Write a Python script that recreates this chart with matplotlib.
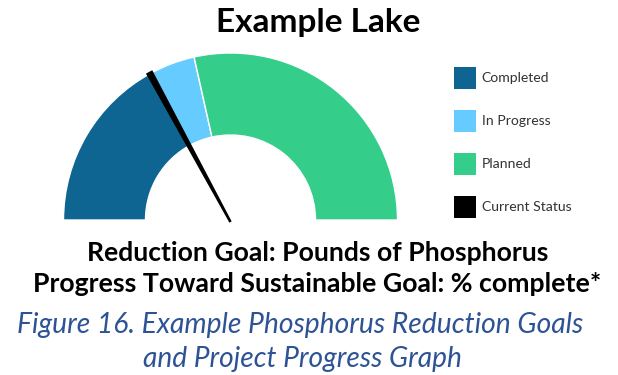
import numpy as np
import matplotlib
matplotlib.use("Agg")
import matplotlib.pyplot as plt
from matplotlib.patches import Wedge, Polygon, Rectangle

# gauge data (% of the phosphorus reduction goal)
labels = ["Completed", "In Progress", "Planned"]
values = [34, 9, 57]
colors = ["#0e6592", "#66ccff", "#35cd8a"]
current_status = 34

legend_labels = labels + ["Current Status"]
legend_colors = colors + ["#000000"]

W, H = 618, 375
fig = plt.figure(figsize=(W / 100, H / 100), dpi=100)
ax = fig.add_axes([0, 0, 1, 1])
ax.set_xlim(0, W)
ax.set_ylim(0, H)
ax.axis("off")
renderer = fig.canvas.get_renderer()


def fit_text(x, y, s, width, **kw):
    # size the text so it spans `width` pixels
    t = ax.text(x, y, s, fontsize=10, family="Lato", va="baseline", **kw)
    w = t.get_window_extent(renderer).width
    t.set_fontsize(10 * width / w)
    return t


cx, cy = 230.5, 155
r_out, r_in = 167, 85


def frac_to_angle(f):
    return 180 - 180 * f


total = float(sum(values))
start = 0.0
for val, col in zip(values, colors):
    t2 = frac_to_angle(start / total)
    t1 = frac_to_angle((start + val) / total)
    ax.add_patch(Wedge((cx, cy), r_out, t1, t2, width=r_out - r_in,
                       facecolor=col, edgecolor="white", linewidth=1))
    start += val

# needle: thin at the hub, wider at the rim
a = np.deg2rad(frac_to_angle(current_status / total))
d = np.array([np.cos(a), np.sin(a)])
n = np.array([-d[1], d[0]])
hub = np.array([cx, cy - 2])
tip = np.array([cx, cy]) + d * 169
pts = [hub + n * 1.3, tip + n * 3.6, tip - n * 3.6, hub - n * 1.3]
ax.add_patch(Polygon(pts, closed=True, facecolor="black", edgecolor="none"))

# legend
probe = ax.text(0, 0, "Completed", fontsize=10, family="Lato")
leg_size = 10 * 68 / probe.get_window_extent(renderer).width
probe.remove()
for i, (lab, col) in enumerate(zip(legend_labels, legend_colors)):
    yc = H - (78.3 + 43 * i)
    ax.add_patch(Rectangle((453.5, yc - 11), 22, 22, facecolor=col,
                           edgecolor="none"))
    ax.text(481.5, yc, lab, fontsize=leg_size, family="Lato",
            color="#333333", va="center", ha="left")

fit_text(318.5, H - 32, "Example Lake", 205, fontweight="bold", ha="center")
fit_text(317.5, H - 261, "Reduction Goal: Pounds of Phosphorus", 463,
         fontweight="bold", ha="center")
fit_text(317.5, H - 292, "Progress Toward Sustainable Goal: % complete*", 569,
         fontweight="bold", ha="center")
fit_text(300, H - 333, "Figure 16. Example Phosphorus Reduction Goals", 568,
         style="italic", color="#2e5395", ha="center")
fit_text(302.5, H - 367, "and Project Progress Graph", 319,
         style="italic", color="#2e5395", ha="center")

fig.savefig("out.png", dpi=100)
